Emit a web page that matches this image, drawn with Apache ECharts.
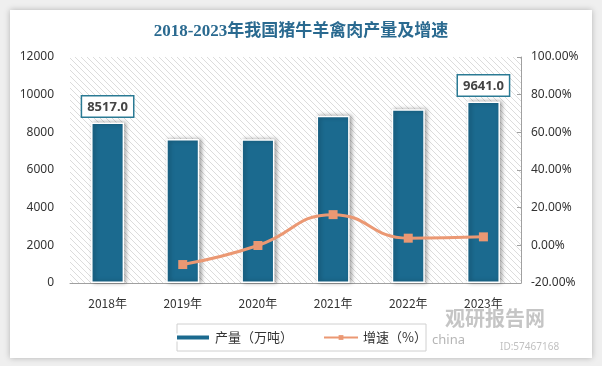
<!DOCTYPE html>
<html><head><meta charset="utf-8">
<script src="https://cdn.jsdelivr.net/npm/echarts@6/dist/echarts.min.js"></script>
<style>html,body{margin:0;padding:0;background:#efefef}#c{width:602px;height:366px}</style>
</head><body><div id="c"></div>
<script>
const categories = ['2018年','2019年','2020年','2021年','2022年','2023年'];
const output = [8517.0, 7649, 7639, 8887, 9227, 9641.0];
const growth = [null, -10.2, -0.1, 16.3, 3.8, 4.5];
const labelled = [true, false, false, false, false, true];
const leftTicks = [0, 12000, 2000];
const rightTicks = [-20, 100, 20];

const pc = document.createElement('canvas');
pc.width = 6; pc.height = 6;
const g = pc.getContext('2d');
g.fillStyle = '#ffffff'; g.fillRect(0,0,6,6);
g.strokeStyle = '#dcdcdc'; g.lineWidth = 1;
g.beginPath(); g.moveTo(0,0); g.lineTo(6,6); g.moveTo(-3,3); g.lineTo(3,9); g.moveTo(3,-3); g.lineTo(9,3); g.stroke();

const barLabel = {show: true, position: 'top', distance: 6,
  formatter: p => p.value.toFixed(1),
  backgroundColor: '#ffffff', borderColor: '#2a7a94', borderWidth: 1.5, padding: [4, 5, 3, 5],
  color: '#444', fontWeight: 'bold', fontSize: 13, fontFamily: 'Noto Sans'};

const chart = echarts.init(document.getElementById('c'));
chart.setOption({
  backgroundColor: '#efefef',
  animation: false,
  title: {
    text: '2018-2023年我国猪牛羊禽肉产量及增速',
    left: 'center', top: 18,
    textStyle: {fontFamily: "'Liberation Serif','Noto Sans CJK SC'", fontSize: 17, fontWeight: 'bold', color: '#2a6a90'}
  },
  graphic: [
    {type: 'rect', z: -10, shape: {x: 10, y: 10, width: 582, height: 348}, style: {fill: '#ffffff', shadowBlur: 6, shadowColor: 'rgba(0,0,0,0.25)'}},
    {type: 'rect', z: -5, shape: {x: 70, y: 57, width: 451, height: 226}, style: {fill: {image: pc, repeat: 'repeat'}}},
    {type: 'rect', shape: {x: 177, y: 324, width: 249, height: 27}, style: {fill: 'none', stroke: '#d0d0d0', lineWidth: 1}},
    {type: 'text', left: 445, top: 308, style: {text: '观研报告网', fontSize: 20, fontWeight: 'bold', fill: 'rgba(150,150,150,0.55)', fontFamily: 'Noto Sans CJK SC'}},
    {type: 'text', left: 432, top: 334, style: {text: 'china', fontSize: 13, fill: 'rgba(150,150,150,0.7)', fontFamily: 'Noto Sans'}},
    {type: 'text', left: 500, top: 342, style: {text: 'ID:57467168', fontSize: 10, fill: 'rgba(150,150,150,0.6)', fontFamily: 'Noto Sans'}}
  ],
  legend: {
    bottom: 17, left: 'center',
    itemGap: 30, itemWidth: 34, itemHeight: 6,
    textStyle: {fontSize: 13, color: '#333', fontFamily: 'Noto Sans CJK SC'},
    data: [{name: '产量（万吨）', icon: 'rect'}, {name: '增速（%）'}]
  },
  grid: {left: 70, right: 81, top: 57, bottom: 83},
  xAxis: {
    type: 'category', data: categories,
    axisLine: {lineStyle: {color: '#a0a0a0'}},
    axisTick: {show: false},
    axisLabel: {color: '#333', fontSize: 12, margin: 14, fontFamily: 'Noto Sans CJK SC'}
  },
  yAxis: [
    {type: 'value', min: leftTicks[0], max: leftTicks[1], interval: leftTicks[2],
      axisLine: {show: false}, axisTick: {show: false}, splitLine: {show: false},
      axisLabel: {color: '#333', fontSize: 12, margin: 16, fontFamily: 'Noto Sans', formatter: v => String(v)}},
    {type: 'value', min: rightTicks[0], max: rightTicks[1], interval: rightTicks[2], position: 'right',
      axisLine: {show: true, lineStyle: {color: '#a0a0a0'}},
      axisTick: {show: true, inside: true, length: 4, lineStyle: {color: '#a0a0a0'}},
      splitLine: {show: false},
      axisLabel: {color: '#333', fontSize: 12, margin: 10, fontFamily: 'Noto Sans', formatter: v => v.toFixed(2) + '%'}}
  ],
  series: [
    {name: '产量（万吨）', type: 'bar', barWidth: '44%',
      data: output.map((v, i) => labelled[i] ? {value: v, label: barLabel} : {value: v}),
      itemStyle: {color: '#1b6a8f', borderColor: '#ffffff', borderWidth: 1.5, shadowBlur: 4, shadowColor: 'rgba(0,0,0,0.35)', shadowOffsetX: 2, shadowOffsetY: 0},
      label: {show: false}},
    {name: '增速（%）', type: 'line', yAxisIndex: 1, data: growth, smooth: true,
      symbol: 'rect', symbolSize: 9,
      lineStyle: {color: '#eb9873', width: 3},
      itemStyle: {color: '#eb9873'}}
  ]
});
</script></body></html>
